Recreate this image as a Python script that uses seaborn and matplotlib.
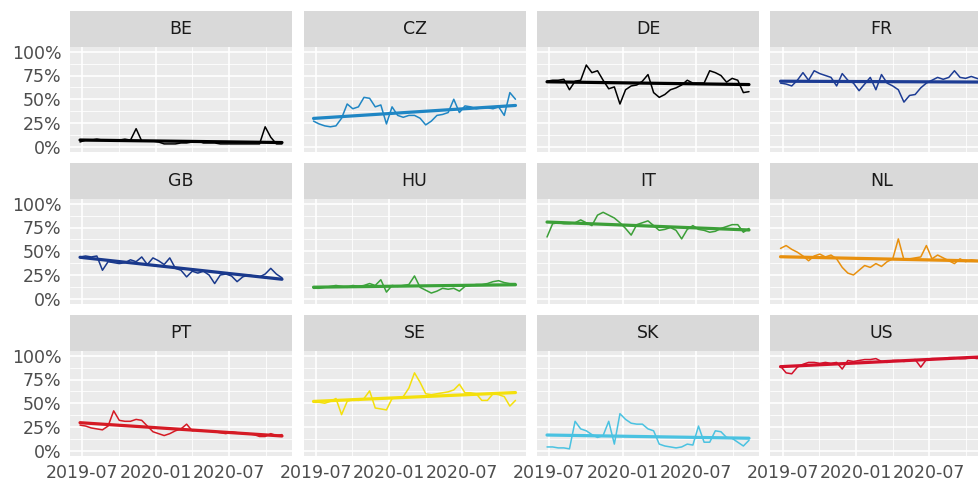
import numpy as np
import pandas as pd
import seaborn as sns
import matplotlib.pyplot as plt
import matplotlib.dates as mdates

# biweekly share per country
countries = ["BE", "CZ", "DE", "FR", "GB", "HU", "IT", "NL", "PT", "SE", "SK", "US"]
dates = pd.date_range("2019-06-26", periods=37, freq="14D")

be = [0.05, 0.07, 0.07, 0.08, 0.07, 0.07, 0.07, 0.07, 0.08, 0.07,
      0.19, 0.06, 0.06, 0.06, 0.05, 0.03, 0.03, 0.03, 0.04, 0.04,
      0.05, 0.06, 0.04, 0.04, 0.04, 0.03, 0.03, 0.03, 0.03, 0.03,
      0.03, 0.03, 0.03, 0.21, 0.10, 0.03, 0.03]
cz = [0.27, 0.24, 0.22, 0.21, 0.22, 0.30, 0.45, 0.40, 0.42, 0.52,
      0.51, 0.42, 0.44, 0.24, 0.42, 0.33, 0.31, 0.33, 0.33, 0.30,
      0.23, 0.27, 0.33, 0.34, 0.36, 0.50, 0.36, 0.43, 0.42, 0.40,
      0.41, 0.41, 0.40, 0.42, 0.33, 0.57, 0.50]
de = [0.69, 0.70, 0.70, 0.71, 0.60, 0.69, 0.70, 0.86, 0.78, 0.80,
      0.70, 0.61, 0.63, 0.45, 0.60, 0.64, 0.65, 0.69, 0.76, 0.57,
      0.52, 0.55, 0.60, 0.62, 0.65, 0.70, 0.67, 0.67, 0.67, 0.80,
      0.78, 0.75, 0.68, 0.72, 0.70, 0.57, 0.58]
fr = [0.67, 0.66, 0.64, 0.70, 0.78, 0.70, 0.80, 0.77, 0.75, 0.73,
      0.64, 0.77, 0.70, 0.67, 0.59, 0.66, 0.73, 0.60, 0.76, 0.67,
      0.64, 0.60, 0.47, 0.54, 0.55, 0.62, 0.67, 0.70, 0.73, 0.71,
      0.73, 0.80, 0.73, 0.72, 0.74, 0.72, 0.70]
gb = [0.44, 0.45, 0.44, 0.45, 0.30, 0.39, 0.38, 0.37, 0.38, 0.41,
      0.39, 0.44, 0.36, 0.43, 0.40, 0.36, 0.43, 0.32, 0.30, 0.23,
      0.29, 0.27, 0.29, 0.25, 0.16, 0.25, 0.26, 0.24, 0.18, 0.23,
      0.25, 0.24, 0.23, 0.26, 0.32, 0.26, 0.22]
hu = [0.11, 0.11, 0.12, 0.13, 0.14, 0.13, 0.12, 0.14, 0.13, 0.14,
      0.16, 0.14, 0.20, 0.07, 0.14, 0.13, 0.14, 0.15, 0.24, 0.12,
      0.09, 0.06, 0.08, 0.11, 0.10, 0.11, 0.08, 0.13, 0.14, 0.15,
      0.15, 0.16, 0.18, 0.19, 0.17, 0.16, 0.16]
it = [0.65, 0.79, 0.80, 0.79, 0.79, 0.80, 0.83, 0.80, 0.77, 0.88,
      0.91, 0.88, 0.85, 0.80, 0.74, 0.67, 0.78, 0.80, 0.82, 0.77,
      0.72, 0.73, 0.75, 0.72, 0.63, 0.73, 0.77, 0.73, 0.72, 0.70,
      0.71, 0.74, 0.76, 0.78, 0.78, 0.70, 0.74]
nl = [0.53, 0.56, 0.52, 0.49, 0.45, 0.40, 0.45, 0.47, 0.44, 0.46,
      0.42, 0.33, 0.27, 0.25, 0.30, 0.35, 0.33, 0.37, 0.34, 0.39,
      0.42, 0.63, 0.41, 0.42, 0.43, 0.44, 0.56, 0.42, 0.46, 0.43,
      0.40, 0.37, 0.42, 0.39, 0.41, 0.40, 0.39]
pt = [0.27, 0.26, 0.24, 0.23, 0.22, 0.26, 0.42, 0.32, 0.31, 0.31,
      0.33, 0.32, 0.26, 0.20, 0.18, 0.16, 0.18, 0.21, 0.23, 0.28,
      0.21, 0.22, 0.21, 0.21, 0.20, 0.19, 0.18, 0.20, 0.19, 0.18,
      0.18, 0.17, 0.15, 0.15, 0.18, 0.16, 0.17]
se = [0.51, 0.51, 0.50, 0.52, 0.55, 0.38, 0.52, 0.54, 0.53, 0.55,
      0.63, 0.45, 0.44, 0.43, 0.55, 0.56, 0.57, 0.66, 0.82, 0.72,
      0.60, 0.59, 0.60, 0.61, 0.62, 0.64, 0.70, 0.61, 0.61, 0.60,
      0.53, 0.53, 0.60, 0.59, 0.57, 0.47, 0.53]
sk = [0.04, 0.04, 0.03, 0.03, 0.02, 0.31, 0.23, 0.21, 0.17, 0.14,
      0.16, 0.31, 0.07, 0.39, 0.33, 0.29, 0.28, 0.28, 0.23, 0.21,
      0.07, 0.05, 0.04, 0.03, 0.04, 0.07, 0.06, 0.26, 0.09, 0.09,
      0.21, 0.20, 0.14, 0.13, 0.09, 0.05, 0.11]
us = [0.89, 0.82, 0.81, 0.88, 0.91, 0.93, 0.93, 0.92, 0.93, 0.92,
      0.93, 0.86, 0.95, 0.94, 0.95, 0.96, 0.96, 0.97, 0.94, 0.93,
      0.95, 0.95, 0.94, 0.95, 0.96, 0.88, 0.96, 0.97, 0.97, 0.97,
      0.98, 0.98, 0.97, 0.97, 0.98, 0.97, 0.98]

colors = ["#000000", "#1F86C4", "#000000", "#1D3C94", "#1A398C", "#3BA23A",
          "#3C9F38", "#E8900E", "#D51A24", "#F4E00C", "#4AC2E1", "#D3102A"]

x_major = ["2019-07-01", "2020-01-01", "2020-07-01"]
x_minor = ["2019-10-01", "2020-04-01", "2020-10-01"]
x_labels = ["2019-07", "2020-01", "2020-07"]
y_major = [0, 0.25, 0.5, 0.75, 1.0]
y_labels = ["0%", "25%", "50%", "75%", "100%"]

series = [be, cz, de, fr, gb, hu, it, nl, pt, se, sk, us]
df = pd.DataFrame({
    "country": np.repeat(countries, len(dates)),
    "date": np.tile(dates, len(countries)),
    "share": np.concatenate(series),
})
df["x"] = mdates.date2num(df["date"])

sns.set_theme(style="white")
plt.rcParams["font.family"] = ["DejaVu Sans"]

W, H = 979, 482
fig = plt.figure(figsize=(W / 100, H / 100), dpi=100)

col_left = [70, 303.5, 537, 770.5]
row_top = [11, 163, 315]
pw, strip_h, ph = 222, 36, 104.5

xmin = mdates.date2num(dates[0] - pd.Timedelta(days=25))
xmax = mdates.date2num(dates[-1] + pd.Timedelta(days=25))

for k, (cty, col) in enumerate(zip(countries, colors)):
    r, c = divmod(k, 4)
    left = col_left[c] / W
    ptop = row_top[r] + strip_h
    ax = fig.add_axes([left, 1 - (ptop + ph) / H, pw / W, ph / H])
    sax = fig.add_axes([left, 1 - ptop / H, pw / W, strip_h / H])

    sub = df[df["country"] == cty]
    sns.lineplot(data=sub, x="x", y="share", color=col, lw=1.1, ax=ax)
    sns.regplot(data=sub, x="x", y="share", scatter=False, ci=None, truncate=True,
                color=col, line_kws={"lw": 2.3}, ax=ax)

    ax.set_facecolor("#EBEBEB")
    for s in ax.spines.values():
        s.set_visible(False)
    ax.set_xlim(xmin, xmax)
    ax.set_ylim(-0.05, 1.05)
    ax.set_xticks(mdates.date2num(pd.to_datetime(x_major)))
    ax.set_xticks(mdates.date2num(pd.to_datetime(x_minor)), minor=True)
    ax.set_yticks(y_major)
    ax.set_yticks([0.125, 0.375, 0.625, 0.875], minor=True)
    ax.grid(which="major", color="white", lw=1.2)
    ax.grid(which="minor", color="white", lw=0.6)
    ax.set_axisbelow(True)
    ax.set_xlabel("")
    ax.set_ylabel("")
    ax.tick_params(which="minor", length=0)

    if c == 0:
        ax.set_yticklabels(y_labels)
        ax.tick_params(axis="y", length=4, width=1, color="#333333",
                       labelsize=12.5, labelcolor="#4D4D4D", pad=2)
    else:
        ax.set_yticklabels([])
        ax.tick_params(axis="y", length=0)
    if r == 2:
        ax.set_xticklabels(x_labels)
        ax.tick_params(axis="x", length=4, width=1, color="#333333",
                       labelsize=12.5, labelcolor="#4D4D4D", pad=2)
    else:
        ax.set_xticklabels([])
        ax.tick_params(axis="x", length=0)

    sax.set_facecolor("#D9D9D9")
    sax.set_xticks([])
    sax.set_yticks([])
    for s in sax.spines.values():
        s.set_visible(False)
    sax.text(0.5, 0.5, cty, ha="center", va="center", fontsize=12.5,
             color="#1A1A1A", transform=sax.transAxes)

fig.savefig("out.png", dpi=100)
